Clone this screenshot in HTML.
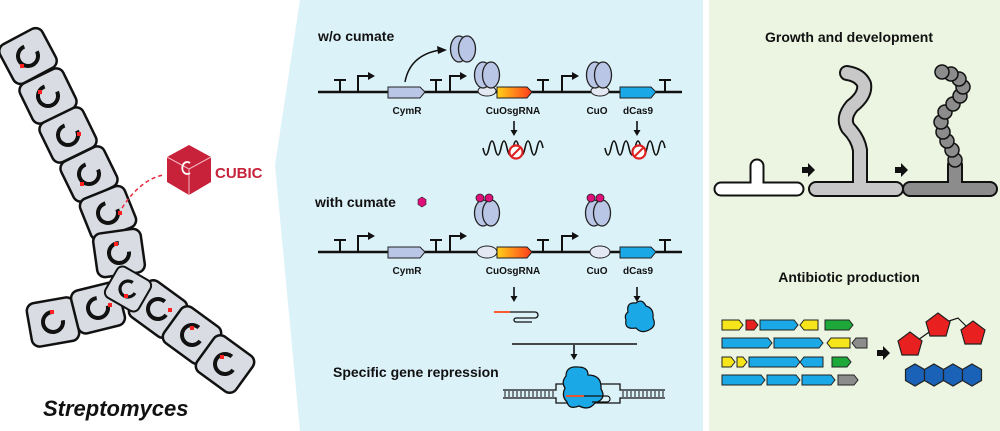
<!DOCTYPE html>
<html><head><meta charset="utf-8"><style>
html,body{margin:0;padding:0;background:#fff;}
svg{display:block;font-family:"Liberation Sans",Arial,sans-serif;}
.b{font-weight:bold;}
</style></head><body>
<svg width="1000" height="431" viewBox="0 0 1000 431" xmlns="http://www.w3.org/2000/svg">
<defs>
<linearGradient id="og" x1="0" x2="1"><stop offset="0" stop-color="#ffd21a"/><stop offset="1" stop-color="#ff3a1a"/></linearGradient>
<g id="cell">
<rect x="-24" y="-22" width="48" height="44" rx="8" fill="#d9dde3" stroke="#111" stroke-width="2.5"/>
<circle r="10" fill="none" stroke="#111" stroke-width="4" stroke-dasharray="48 14.8"/>
</g>
<g id="dimer"><ellipse cx="-4" cy="0" rx="8.5" ry="13" fill="#b9c6e6" stroke="#222" stroke-width="1.3"/><ellipse cx="4" cy="0" rx="8.5" ry="13" fill="#b9c6e6" stroke="#222" stroke-width="1.3"/></g>
<g id="term"><path d="M0 0 V-12 M-6 -12 H6" stroke="#111" stroke-width="2" fill="none"/></g>
<g id="prom"><path d="M0 0 V-16 H10" stroke="#111" stroke-width="2" fill="none"/><path d="M10 -20 L17 -16 L10 -12Z" fill="#111"/></g>
<g id="darr"><path d="M0 0 V11" stroke="#111" stroke-width="1.6"/><path d="M-3.5 9 L0 15 L3.5 9Z" fill="#111"/></g>
<g id="bigarr"><path d="M-6 -3 H0 V-7 L7 0 L0 7 V3 H-6Z" fill="#111"/></g>
</defs>

<polygon points="300,0 703,0 703,431 300,431 275,165" fill="#dcf2f9"/>
<rect x="709" y="0" width="291" height="431" fill="#ebf5e1"/>

<g>
<use href="#cell" transform="translate(28,56) rotate(-28)"/>
<use href="#cell" transform="translate(48,96) rotate(-26)"/>
<use href="#cell" transform="translate(68,135) rotate(-26)"/>
<use href="#cell" transform="translate(89,174) rotate(-26)"/>
<use href="#cell" transform="translate(108,213) rotate(-22)"/>
<use href="#cell" transform="translate(119,253) rotate(-8)"/>
<use href="#cell" transform="translate(53,322) rotate(-10)"/>
<use href="#cell" transform="translate(98,308) rotate(-14)"/>
<use href="#cell" transform="translate(158,309) rotate(36)"/>
<use href="#cell" transform="translate(192,335) rotate(36)"/>
<use href="#cell" transform="translate(225,364) rotate(36)"/>
<use href="#cell" transform="translate(128,289) rotate(30) scale(0.8)"/>
</g>
<g fill="#ff2020">
<rect x="20" y="64" width="4" height="4"/><rect x="38" y="90" width="4" height="4"/>
<rect x="77" y="132" width="4" height="4"/><rect x="80" y="182" width="4" height="4"/>
<rect x="118" y="211" width="4" height="4"/><rect x="114" y="242" width="4" height="4"/>
<rect x="50" y="310" width="4" height="4"/><rect x="108" y="303" width="4" height="4"/>
<rect x="168" y="308" width="4" height="4"/><rect x="190" y="326" width="4" height="4"/>
<rect x="220" y="355" width="4" height="4"/><rect x="124" y="294" width="4" height="4"/>
</g>
<path d="M122 208 Q140 180 163 175" stroke="#e8283c" stroke-width="1.5" fill="none" stroke-dasharray="4 3"/>
<polygon points="189,145 211,157 211,182 189,195 167,182 167,157" fill="#c8223a"/>
<path d="M167 157 L189 169 L211 157 M189 169 V195" stroke="#f3b6bf" stroke-width="1" fill="none"/>
<path d="M190 163 A5 6 0 1 0 190 173" stroke="#fff" stroke-width="1.8" fill="none"/>
<text x="215" y="178" class="b" font-size="15" fill="#c8223a">CUBIC</text>
<text x="43" y="416" class="b" font-size="22" font-style="italic" fill="#111">Streptomyces</text>

<text x="318" y="41" class="b" font-size="14" fill="#111">w/o cumate</text>
<line x1="318" y1="92" x2="682" y2="92" stroke="#111" stroke-width="2.5"/>
<use href="#term" x="340" y="92"/><use href="#term" x="436" y="92"/><use href="#term" x="543" y="92"/><use href="#term" x="665" y="92"/>
<use href="#prom" x="358" y="92"/><use href="#prom" x="450" y="92"/><use href="#prom" x="562" y="92"/>
<polygon points="388,87 420,87 425,92 420,98 388,98" fill="#b9c6e6" stroke="#222" stroke-width="1"/>
<polygon points="497,87 527,87 532,92 527,98 497,98" fill="url(#og)" stroke="#222" stroke-width="1"/>
<polygon points="620,87 651,87 656,92 651,98 620,98" fill="#1aa8e6" stroke="#222" stroke-width="1"/>
<ellipse cx="487" cy="91" rx="9" ry="5" fill="#e4e8f2" stroke="#222" stroke-width="1"/>
<ellipse cx="600" cy="91" rx="9" ry="5" fill="#e4e8f2" stroke="#222" stroke-width="1"/>
<use href="#dimer" x="487" y="75"/><use href="#dimer" x="599" y="75"/><use href="#dimer" x="463" y="49"/>
<path d="M405 82 Q410 55 440 50" stroke="#111" stroke-width="1.5" fill="none"/><path d="M437 46 L447 50 L438 54Z" fill="#111"/>
<g class="b" font-size="10" fill="#111" text-anchor="middle">
<text x="407" y="114">CymR</text><text x="513" y="114">CuOsgRNA</text><text x="597" y="114">CuO</text><text x="638" y="114">dCas9</text>
</g>
<use href="#darr" x="514" y="121"/><use href="#darr" x="637" y="121"/>
<path d="M483 148 q3 14 6 0 q3 -14 6 0 q3 14 6 0 q3 -14 6 0 q3 14 6 0 q3 -14 6 0 q3 14 6 0 q3 -14 6 0 q3 14 6 0 q3 -14 6 0" stroke="#111" stroke-width="1.6" fill="none"/>
<path d="M605 148 q3 14 6 0 q3 -14 6 0 q3 14 6 0 q3 -14 6 0 q3 14 6 0 q3 -14 6 0 q3 14 6 0 q3 -14 6 0 q3 14 6 0 q3 -14 6 0" stroke="#111" stroke-width="1.6" fill="none"/>
<circle cx="516" cy="152" r="6.5" fill="#fff" stroke="#e02020" stroke-width="2.2"/><line x1="512" y1="156" x2="520" y2="148" stroke="#e02020" stroke-width="2"/>
<circle cx="639" cy="152" r="6.5" fill="#fff" stroke="#e02020" stroke-width="2.2"/><line x1="635" y1="156" x2="643" y2="148" stroke="#e02020" stroke-width="2"/>

<text x="315" y="207" class="b" font-size="14" fill="#111">with cumate</text>
<polygon points="422,197 426,199.5 426,204.5 422,207 418,204.5 418,199.5" fill="#e0107a" stroke="#222" stroke-width="0.6"/>
<use href="#dimer" x="487" y="213"/><use href="#dimer" x="598" y="213"/>
<circle cx="480" cy="198" r="4" fill="#e0107a" stroke="#222" stroke-width="0.8"/><circle cx="489" cy="198" r="4" fill="#e0107a" stroke="#222" stroke-width="0.8"/>
<circle cx="591" cy="198" r="4" fill="#e0107a" stroke="#222" stroke-width="0.8"/><circle cx="600" cy="198" r="4" fill="#e0107a" stroke="#222" stroke-width="0.8"/>
<line x1="318" y1="252" x2="682" y2="252" stroke="#111" stroke-width="2.5"/>
<use href="#term" x="340" y="252"/><use href="#term" x="436" y="252"/><use href="#term" x="543" y="252"/><use href="#term" x="665" y="252"/>
<use href="#prom" x="358" y="252"/><use href="#prom" x="450" y="252"/><use href="#prom" x="562" y="252"/>
<polygon points="388,247 420,247 425,252 420,258 388,258" fill="#b9c6e6" stroke="#222" stroke-width="1"/>
<polygon points="497,247 527,247 532,252 527,258 497,258" fill="url(#og)" stroke="#222" stroke-width="1"/>
<polygon points="620,247 651,247 656,252 651,258 620,258" fill="#1aa8e6" stroke="#222" stroke-width="1"/>
<ellipse cx="487" cy="252" rx="10" ry="6" fill="#e4e8f2" stroke="#222" stroke-width="1"/>
<ellipse cx="600" cy="252" rx="10" ry="6" fill="#e4e8f2" stroke="#222" stroke-width="1"/>
<g class="b" font-size="10" fill="#111" text-anchor="middle">
<text x="407" y="274">CymR</text><text x="513" y="274">CuOsgRNA</text><text x="597" y="274">CuO</text><text x="638" y="274">dCas9</text>
</g>
<use href="#darr" x="514" y="287"/><use href="#darr" x="637" y="287"/>
<path d="M494 312 H510" stroke="#ff4a1a" stroke-width="1.8"/>
<path d="M510 312 H535 a3 3 0 0 1 0 6 H516 a2 2 0 0 0 0 4 H532" stroke="#111" stroke-width="1.3" fill="none"/>
<path d="M628 312 q-2 -10 8 -9 q6 -5 10 3 q8 2 7 12 q4 8 -4 12 q-8 4 -13 -2 q-12 2 -10 -8 q-2 -5 2 -8z" fill="#1aa8e6" stroke="#111" stroke-width="1.2"/>
<line x1="512" y1="344" x2="637" y2="344" stroke="#111" stroke-width="1.6"/>
<use href="#darr" x="574" y="345"/>
<text x="333" y="377" class="b" font-size="14" fill="#111">Specific gene repression</text>
<g stroke="#111" fill="none" stroke-width="1.3">
<path d="M503 390 H556 V384 H620 V390 H665"/>
<path d="M503 398 H556 V403 H620 V398 H665"/>
</g>
<path d="M505 391 V397 M509 391 V397 M513 391 V397 M517 391 V397 M521 391 V397 M525 391 V397 M529 391 V397 M533 391 V397 M537 391 V397 M541 391 V397 M545 391 V397 M549 391 V397 M553 391 V397 M623 391 V397 M627 391 V397 M631 391 V397 M635 391 V397 M639 391 V397 M643 391 V397 M647 391 V397 M651 391 V397 M655 391 V397 M659 391 V397 M663 391 V397" stroke="#111" stroke-width="1"/>
<path d="M566 376 q0 -10 12 -9 q10 0 10 8 q14 0 13 14 q6 10 -6 14 q-6 8 -16 3 q-10 4 -12 -4 q-6 -6 -2 -14 q-4 -6 1 -12z" fill="#1aa8e6" stroke="#111" stroke-width="1.3"/>
<path d="M566 396 H584" stroke="#ff4a1a" stroke-width="1.8"/>
<path d="M584 396 H607 a3 3 0 0 1 0 6 H592" stroke="#111" stroke-width="1.2" fill="none"/>

<g class="b" font-size="14" fill="#111" text-anchor="middle">
<text x="849" y="42">Growth and development</text>
<text x="849" y="282">Antibiotic production</text>
</g>
<g fill="none" stroke-linecap="round" stroke-linejoin="round">
<path d="M721 189 H797 M757 189 V166" stroke="#111" stroke-width="15"/>
<path d="M721 189 H797 M757 189 V166" stroke="#fff" stroke-width="11"/>
<path d="M816 189 H896 M860 189 V150 Q858 138 848 128 Q842 118 852 106 Q866 95 864 84 Q860 75 847 73" stroke="#111" stroke-width="16"/>
<path d="M816 189 H896 M860 189 V150 Q858 138 848 128 Q842 118 852 106 Q866 95 864 84 Q860 75 847 73" stroke="#c8c8c8" stroke-width="12"/>
<path d="M910 189 H990 M955 189 V165" stroke="#111" stroke-width="16"/>
<path d="M910 189 H990 M955 189 V165" stroke="#8c8c8c" stroke-width="12"/>
</g>
<g fill="#8c8c8c" stroke="#111" stroke-width="1.5">
<circle cx="955" cy="160" r="7"/><circle cx="952" cy="150" r="7"/><circle cx="947" cy="141" r="7"/><circle cx="943" cy="132" r="7"/><circle cx="941" cy="122" r="7"/><circle cx="945" cy="112" r="7"/><circle cx="953" cy="104" r="7"/><circle cx="960" cy="96" r="7"/><circle cx="963" cy="87" r="7"/><circle cx="959" cy="79" r="7"/><circle cx="951" cy="74" r="7"/><circle cx="942" cy="72" r="7"/>
</g>
<use href="#bigarr" x="808" y="170"/><use href="#bigarr" x="901" y="170"/>
<g stroke="#222" stroke-width="1">
<polygon points="722,320 739,320 743,325 739,330 722,330" fill="#f5e51a"/>
<polygon points="746,320 754,320 758,325 754,330 746,330" fill="#e82020"/>
<polygon points="760,320 794,320 798,325 794,330 760,330" fill="#1aa8e6"/>
<polygon points="804,320 818,320 818,330 804,330 800,325" fill="#f5e51a"/>
<polygon points="825,320 849,320 853,325 849,330 825,330" fill="#1fa83a"/>
<polygon points="722,338 768,338 772,343 768,348 722,348" fill="#1aa8e6"/>
<polygon points="774,338 819,338 823,343 819,348 774,348" fill="#1aa8e6"/>
<polygon points="831,338 850,338 850,348 831,348 827,343" fill="#f5e51a"/>
<polygon points="856,338 867,338 867,348 856,348 852,343" fill="#8c8c8c"/>
<polygon points="722,357 731,357 735,362 731,367 722,367" fill="#f5e51a"/>
<polygon points="737,357 743,357 747,362 743,367 737,367" fill="#f5e51a"/>
<polygon points="749,357 796,357 800,362 796,367 749,367" fill="#1aa8e6"/>
<polygon points="804,357 823,357 823,367 804,367 800,362" fill="#1aa8e6"/>
<polygon points="832,357 847,357 851,362 847,367 832,367" fill="#1fa83a"/>
<polygon points="722,375 761,375 765,380 761,385 722,385" fill="#1aa8e6"/>
<polygon points="767,375 796,375 800,380 796,385 767,385" fill="#1aa8e6"/>
<polygon points="802,375 831,375 835,380 831,385 802,385" fill="#1aa8e6"/>
<polygon points="838,375 854,375 858,380 854,385 838,385" fill="#8c8c8c"/>
</g>
<use href="#bigarr" x="883" y="353"/>
<path d="M918 340 L932 330 M946 322 L958 318 L966 326" stroke="#111" stroke-width="1.2" fill="none"/>
<g fill="#e82020" stroke="#222" stroke-width="1.2">
<polygon points="910,332 922,341 918,355 902,355 898,341"/>
<polygon points="938,313 950,322 946,336 930,336 926,322"/>
<polygon points="973,321 985,330 981,344 965,344 961,330"/>
</g>
<g fill="#1a62b8" stroke="#222" stroke-width="1.2">
<polygon points="915,364 924.5,369.5 924.5,380.5 915,386 905.5,380.5 905.5,369.5"/>
<polygon points="934,364 943.5,369.5 943.5,380.5 934,386 924.5,380.5 924.5,369.5"/>
<polygon points="953,364 962.5,369.5 962.5,380.5 953,386 943.5,380.5 943.5,369.5"/>
<polygon points="972,364 981.5,369.5 981.5,380.5 972,386 962.5,380.5 962.5,369.5"/>
</g>
</svg>
</body></html>
